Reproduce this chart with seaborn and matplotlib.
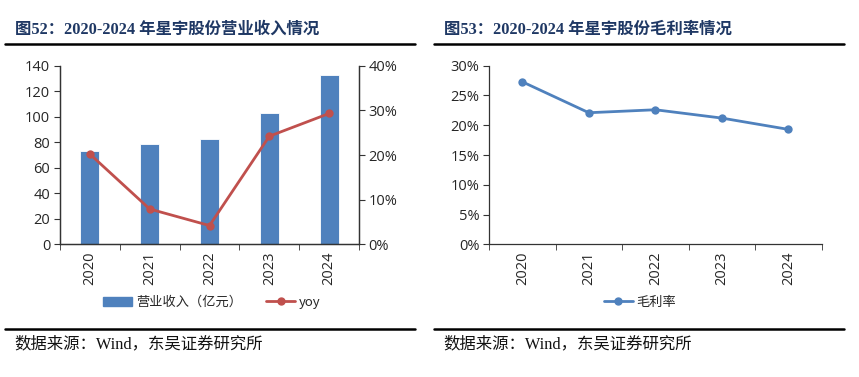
import matplotlib
matplotlib.use("Agg")
import matplotlib.pyplot as plt
from matplotlib.ticker import FixedLocator, PercentFormatter
from matplotlib.lines import Line2D
from matplotlib.patches import Patch
import seaborn as sns
import pandas as pd

# ── data
years   = ["2020", "2021", "2022", "2023", "2024"]
revenue = [73.1, 78.9, 82.3, 102.6, 132.6]     # 营业收入（亿元）
yoy     = [20.2, 7.9, 4.2, 24.2, 29.3]          # %
gross   = [27.3, 22.1, 22.6, 21.2, 19.3]        # 毛利率 %

BLUE = "#4F81BD"
RED  = "#C0504D"
NAVY = "#1F3864"
TICK_FONT = ["Open Sans", "DejaVu Sans"]
CJK_SANS  = ["Noto Sans CJK SC", "DejaVu Sans"]
SERIF_MIX = ["Liberation Serif", "Noto Sans CJK SC"]
TSIZE = 10.5

sns.set_style("ticks")
plt.rcParams["font.family"] = CJK_SANS
plt.rcParams["axes.linewidth"] = 0.9

df = pd.DataFrame({"year": years, "revenue": revenue, "yoy": yoy, "gross": gross})

fig = plt.figure(figsize=(8.59, 3.77), dpi=100)
W, H = 859, 377

def style_x(ax):
    n = len(years)
    ax.set_xlim(-0.5, n - 0.5)
    ax.xaxis.set_major_locator(FixedLocator(range(n)))
    ax.set_xticklabels(years, rotation=90, fontsize=TSIZE, family=TICK_FONT)
    ax.xaxis.set_minor_locator(FixedLocator([i - 0.5 for i in range(n + 1)]))
    ax.tick_params(axis="x", which="major", length=0, pad=5)
    ax.tick_params(axis="x", which="minor", length=4, direction="out", color="#333333")
    ax.set_xlabel("")

def style_y(ax):
    ax.set_ylabel("")
    ax.tick_params(axis="y", labelsize=TSIZE, length=4, color="#333333", pad=3)
    for t in ax.get_yticklabels():
        t.set_family(TICK_FONT)

# ── left panel: revenue bars + yoy line
ax1 = fig.add_axes([60 / W, 1 - 244.3 / H, 299 / W, 178.6 / H])
sns.barplot(data=df, x="year", y="revenue", color=BLUE, saturation=1, width=0.32,
            edgecolor="white", linewidth=0.6, ax=ax1)
ax1.set_ylim(0, 140)
ax1.set_yticks(range(0, 141, 20))
style_y(ax1)
ax2 = ax1.twinx()
sns.lineplot(x=range(len(years)), y=df["yoy"], color=RED, lw=2, marker="o",
             markersize=6, markeredgewidth=0, ax=ax2)
ax2.set_ylim(0, 40)
ax2.set_yticks(range(0, 41, 10))
ax2.yaxis.set_major_formatter(PercentFormatter(decimals=0))
style_y(ax2)
for a in (ax1, ax2):
    a.spines["top"].set_visible(False)
    a.spines["right"].set_visible(True)
    for s in a.spines.values():
        s.set_color("#333333")
style_x(ax1)

h1 = [Patch(facecolor=BLUE, edgecolor=BLUE),
      Line2D([], [], color=RED, lw=2, marker="o", markersize=5)]
fig.legend(h1, ["营业收入（亿元）", "yoy"], loc="center", bbox_to_anchor=(212 / W, 1 - 302.5 / H),
           ncol=2, frameon=False, handlelength=2.2, handletextpad=0.3,
           columnspacing=1.8, prop={"family": CJK_SANS, "size": 9.5})

# ── right panel: gross margin
ax3 = fig.add_axes([489 / W, 1 - 244.3 / H, 332.7 / W, 178.6 / H])
sns.lineplot(x=range(len(years)), y=df["gross"], color=BLUE, lw=2, marker="o",
             markersize=6, markeredgewidth=0, ax=ax3)
ax3.set_ylim(0, 30)
ax3.set_yticks(range(0, 31, 5))
ax3.yaxis.set_major_formatter(PercentFormatter(decimals=0))
style_y(ax3)
ax3.spines["top"].set_visible(False)
ax3.spines["right"].set_visible(False)
for s in ax3.spines.values():
    s.set_color("#333333")
style_x(ax3)

h2 = [Line2D([], [], color=BLUE, lw=2, marker="o", markersize=5)]
fig.legend(h2, ["毛利率"], loc="center", bbox_to_anchor=(640 / W, 1 - 302.5 / H),
           frameon=False, handlelength=2.2, handletextpad=0.3,
           prop={"family": CJK_SANS, "size": 9.5})

# ── titles, rules, sources
titles = ["图52：2020-2024 年星宇股份营业收入情况", "图53：2020-2024 年星宇股份毛利率情况"]
for x0, x1, title in [(5, 415, titles[0]), (434, 844, titles[1])]:
    fig.text((x0 + 10) / W, 1 - 30 / H, title, fontsize=11.8, fontweight="bold",
             color=NAVY, family=SERIF_MIX, va="center")
    fig.add_artist(Line2D([x0 / W, x1 / W], [1 - 44 / H] * 2, color="black", lw=1.8))
    fig.add_artist(Line2D([x0 / W, x1 / W], [1 - 329 / H] * 2, color="black", lw=1.8))
    fig.text((x0 + 9) / W, 1 - 344 / H, "数据来源：Wind，东吴证券研究所", fontsize=11.8,
             color="#111111", family=SERIF_MIX, va="center")

fig.savefig("out.png", dpi=100)
